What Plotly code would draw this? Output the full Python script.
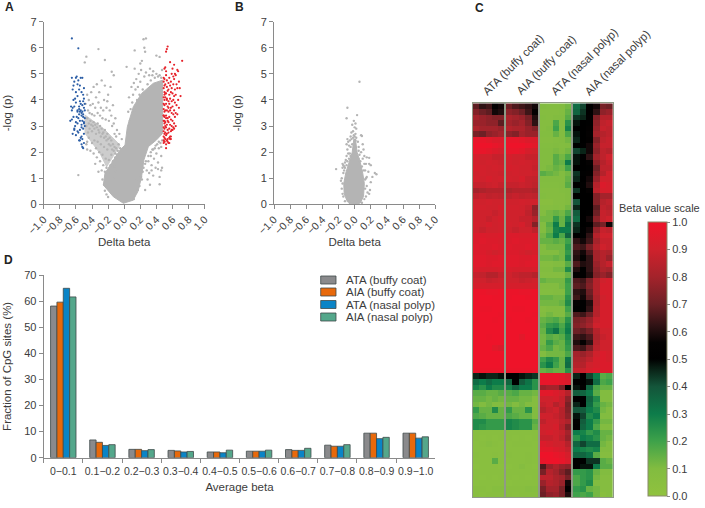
import plotly.graph_objects as go

W, H = 705, 508

# ---------- Panel A ----------
envelope_a_x = [-.01,.113,.175,.216,.245,.30,.403,.477,.477,.362,.216,.113,.039,.01,-.052,-.156,-.239,-.259,-.135,-.01]
envelope_a_y = [.04,.16,.53,1.06,1.70,2.21,2.47,2.72,4.76,4.64,4.25,3.74,2.97,2.27,2.08,1.57,1.19,.74,.29,.04]
arm_a_x = [-.487,-.26,-.052,-.218,-.30,-.487,-.487]
arm_a_y = [3.42,2.91,2.27,1.44,1.95,2.72,3.42]
gray_a = [(-.47,5.66),(-.49,5.44),(-.32,5.95),(-.24,5.53),(.24,6.33),(.27,6.36),(.13,5.9),(.25,6.0),(.26,5.85),(.2,5.4),(.22,5.5),(.03,5.27),(.13,5.2),(.4,5.7),(.44,5.65),(.32,5.2),(-.57,1.12),(-.155,5.08),(-.13,4.95),(.34,1.3),(.44,.77),(.46,1.3),(.42,1.35),
(-.46,2.4),(-.45,2.75),(-.47,3.0),(-.44,3.1),(-.43,2.9),(-.46,3.3),(-.42,3.2),(-.41,3.05),(-.4,2.8),(-.39,3.0),(-.38,3.15),(-.37,2.9),(-.36,3.05),(-.35,2.7),(-.34,2.95),(-.33,3.1),(-.32,2.85),(-.31,2.75),(-.3,3.0),(-.29,2.6),(-.28,2.9),(-.27,2.7),(-.26,2.75),(-.25,2.55),(-.24,2.85),(-.23,2.6),(-.22,2.45),(-.21,2.7),(-.2,2.5),(-.19,2.3),(-.18,2.55),(-.17,2.25),(-.16,2.45),(-.15,2.1),(-.14,2.3),(-.13,2.05),(-.12,2.2),(-.11,1.95),(-.1,2.15),(-.09,1.9),(-.08,2.05),(-.07,2.3),(-.05,2.15),
(-.45,3.6),(-.44,4.0),(-.46,4.2),(-.43,3.5),(-.42,3.8),(-.41,4.3),(-.4,3.45),(-.39,3.85),(-.38,4.5),(-.37,3.4),(-.36,3.7),(-.35,4.1),(-.34,4.6),(-.33,3.5),(-.32,3.9),(-.31,4.3),(-.3,3.4),(-.29,3.7),(-.28,4.75),(-.27,3.3),(-.26,3.6),(-.25,4.0),(-.24,4.55),(-.23,3.25),(-.22,3.7),(-.21,3.95),(-.2,4.2),(-.19,3.2),(-.18,3.6),(-.17,4.5),(-.16,3.4),(-.15,3.0),(-.14,3.8),(-.13,3.1),(-.12,2.7),(-.11,3.3),(-.1,2.6),(-.09,2.85),(-.06,2.7),(-.03,2.5),(.05,3.55),(.06,4.1),(.07,3.2),(.08,3.65),(.09,4.5),(.1,3.9),(.11,4.2),(.12,4.65),(.13,3.6),(.14,4.4),(.15,4.8),(.16,4.0),(.17,4.5),(.18,5.0),(.19,4.2),(.2,4.7),(.21,5.15),(.23,4.4),(.25,4.9),(.27,5.05),(.29,4.6),(.31,4.95),(.33,4.75),(.35,4.95),(.36,5.1),(.38,4.85),(.4,5.0),(.42,4.9),(.44,4.95),(.46,4.85),(.47,5.15),
(-.48,3.85),(-.47,2.3),(-.46,2.1),(-.44,2.55),(-.42,2.05),(-.4,2.35),(-.38,1.95),(-.37,2.45),(-.36,1.55),(-.35,2.15),(-.34,1.8),(-.33,2.4),(-.32,1.25),(-.31,2.0),(-.3,1.65),(-.29,2.3),(-.28,1.3),(-.27,1.9),(-.26,1.5),(-.25,2.2),(-.24,1.25),(-.23,1.75),(-.22,1.4),(-.21,2.1),(-.2,1.2),(-.19,1.7),(-.18,1.05),(-.17,1.5),(-.16,1.9),(-.15,1.3),(-.14,1.65),(-.13,1.0),(-.12,1.45),(-.11,1.8),(-.1,1.25),(-.27,.95),(-.25,.75),(-.24,.52),(-.22,.38),(-.2,.28),
(.12,.2),(.15,.45),(.19,.7),(.22,.95),(.26,.55),(.28,1.3),(.29,.95),(.3,1.65),(.31,1.2),(.32,.75),(.33,1.85),(.34,1.5),(.35,2.1),(.36,1.1),(.37,1.75),(.38,2.15),(.39,1.4),(.4,1.95),(.41,2.3),(.42,1.6),(.43,2.15),(.44,1.05),(.45,2.35),(.46,1.85),(.47,2.45),(.47,1.4),(.46,2.2),(.43,2.4),(.39,2.25),(.36,2.1),(.33,2.0),(.3,1.85),(.27,1.65),(.26,1.55),(.24,1.4),(.16,.95),(.17,.55),(.21,1.05),(.23,1.25)]
blue_x = [-.65,-.57,-.65,-.64,-.63,-.62,-.6,-.59,-.58,-.57,-.55,-.54,-.52,-.5,-.51,-.53,-.56,-.58,-.6,-.61,-.63,-.64,-.66,-.67,-.65,-.62,-.6,-.58,-.57,-.56,-.55,-.54,-.53,-.52,-.51,-.5,-.49,-.49,-.5,-.52,-.53,-.55,-.56,-.58,-.59,-.61,-.62,-.64,-.65,-.63,-.6,-.57,-.55,-.53,-.51,-.5,-.49,-.52,-.54,-.56,-.58,-.6,-.62,-.52,-.51,-.5,-.53,-.55,-.54,-.56,-.58,-.5,-.49,-.51,-.53,-.55,-.52,-.51,-.53,-.5]
blue_y = [6.36,5.98,4.85,4.4,4.55,4.7,4.85,4.9,4.6,4.75,4.55,4.85,4.85,4.45,4.2,4.3,4.4,4.15,4.3,4.05,4.0,3.7,3.75,3.2,3.6,3.75,3.9,3.55,3.3,3.65,3.95,3.6,3.4,3.8,3.95,3.7,3.6,3.3,3.15,3.55,3.05,3.2,3.45,3.1,3.35,3.0,2.85,2.7,3.25,3.35,3.15,2.75,2.85,2.6,2.9,2.7,3.0,2.5,2.55,2.45,2.8,2.65,2.9,2.2,2.15,2.35,2.3,2.45,3.85,3.75,3.6,4.05,3.85,3.35,3.5,3.55,3.2,3.45,2.95,3.1]
red_x = [.52,.53,.54,.51,.52,.6,.62,.72,.57,.63,.66,.5,.52,.56,.59,.61,.64,.67,.53,.55,.58,.62,.65,.68,.5,.51,.53,.55,.57,.59,.61,.63,.66,.69,.7,.49,.5,.52,.54,.56,.58,.6,.62,.64,.67,.49,.5,.51,.53,.55,.57,.59,.61,.63,.65,.68,.49,.5,.52,.54,.56,.58,.6,.62,.64,.49,.5,.51,.53,.55,.57,.59,.61,.63,.66,.49,.5,.52,.54,.56,.58,.6,.62,.49,.5,.51,.53,.55,.57,.59,.61,.64,.49,.5,.52,.54,.56,.58,.6,.49,.5,.51,.53,.55,.57,.59,.62,.49,.5,.52,.54,.56,.58,.49,.5,.51,.53,.55,.57,.49,.5,.52,.54,.56,.58,.49,.5,.51,.53,.55,.52,.49,.5,.51,.49,.5,.52,.54]
red_y = [5.85,5.95,6.05,5.25,5.1,5.2,5.35,5.5,5.45,5.0,5.15,5.2,4.95,4.85,5.0,4.9,4.95,5.1,4.75,4.65,4.7,4.8,4.6,4.7,4.8,4.6,4.5,4.4,4.55,4.45,4.6,4.4,4.45,4.45,4.15,4.45,4.3,4.25,4.35,4.2,4.3,4.25,4.15,4.2,4.0,4.1,4.0,4.1,4.05,3.95,4.05,3.95,4.0,3.9,3.8,3.7,3.85,3.8,3.85,3.75,3.85,3.7,3.75,3.6,3.5,3.65,3.55,3.6,3.6,3.55,3.6,3.5,3.45,3.35,3.45,3.4,3.35,3.4,3.3,3.35,3.25,3.2,3.1,3.2,3.1,3.15,3.05,3.15,3.05,3.0,2.95,3.0,2.95,2.9,2.95,2.85,2.9,2.8,2.85,2.8,2.7,2.75,2.7,2.75,2.6,2.85,2.9,2.6,2.55,2.65,2.5,2.55,2.6,2.45,2.4,2.5,2.45,2.35,2.5,2.35,2.4,2.3,2.4,2.35,2.5,4.85,4.55,4.25,4.0,3.7,2.15,3.4,3.2,3.0,4.7,4.2,3.3,3.2]

# ---------- Panel B ----------
envelope_b_x = [-.02, -.09, -.13, -.135, -.11, -.07, -.03, -.01, .01, .03, .07, .1, .12, .11, .07, .02]
envelope_b_y = [0, .1, .4, .8, 1.2, 1.6, 2.0, 2.5, 2.5, 2.0, 1.6, 1.2, .8, .3, .05, 0]
gray_b = [(.06,4.7),(-.09,3.7),(-.1,3.3),(.03,3.42),(-.01,3.2),(.01,3.1),(-.03,3.05),(0,2.95),(.02,2.9),(-.02,2.8),(-.04,2.75),(.01,2.7),(.08,2.65),(.09,2.62),(-.05,2.6),(-.09,2.5),(-.08,2.4),(-.06,2.45),(-.1,2.3),(-.07,2.25),(-.05,2.2),(-.09,2.1),(-.03,2.3),(.04,2.4),(.05,2.2),(.1,2.3),(.11,2.1),(.08,2.0),(.05,2.05),(.06,1.9),(.12,1.85),(.15,1.8),(.18,1.78),(.1,1.75),(.14,1.55),(.18,1.55),(.2,1.5),(.25,1.2),(.27,1.15),(.22,1.05),(.17,1.25),(.15,1.05),(.2,.85),(.19,.55),(.18,.4),(.15,.7),(.16,.45),(.14,.3),(.14,1.0),(.13,1.3),(.12,1.55),
(-.15,1.55),(-.14,1.5),(-.13,1.45),(-.15,1.4),(-.12,1.6),(-.11,1.7),(-.1,1.85),(-.08,1.95),(-.06,1.95),(-.23,1.35),(-.16,1.0),(-.17,.9),(-.15,.8),(-.16,.6),(-.15,.4),(-.14,.3),(-.12,.12),(-.14,1.2),(-.13,1.3),(-.12,1.4),(-.1,1.5),(-.09,1.65),(-.07,1.75),(-.05,1.85),(.05,1.75),(.07,1.65),(.09,1.45),(.11,1.3),(.13,.95),(.13,.6),(.12,.2),(.09,.06),(-.06,.05),(-.02,2.55),(0,2.6),(.02,2.55),(-.01,2.65),(.01,2.45),(-.04,2.5)]

# ---------- Panel D ----------
bins = ["0\u22120.1", "0.1\u22120.2", "0.2\u22120.3", "0.3\u22120.4", "0.4\u22120.5", "0.5\u22120.6", "0.6\u22120.7", "0.7\u22120.8", "0.8\u22120.9", "0.9\u22121.0"]
series_names = ["ATA (buffy coat)", "AIA (buffy coat)", "ATA (nasal polyp)", "AIA (nasal polyp)"]
ata_buffy = [58.1, 6.8, 3.2, 2.8, 2.2, 2.5, 3.1, 4.8, 9.4, 9.4]
aia_buffy = [59.6, 5.9, 3.2, 2.6, 2.2, 2.5, 2.8, 4.4, 9.4, 9.4]
ata_nasal = [64.9, 4.7, 2.7, 2.2, 1.9, 2.5, 2.8, 4.4, 7.3, 7.5]
aia_nasal = [61.6, 5.0, 3.1, 2.4, 2.9, 2.9, 3.6, 5.0, 7.8, 8.0]
bar_colors = ["#8a8a8c", "#e8690b", "#0a84c6", "#54a78b"]

# ---------- Panel C (beta x 100) ----------
hm_ata_buffy = [
[68,62,64,56,58],[74,70,68,58,60],[80,78,76,74,74],[78,78,76,76,68],[82,80,80,80,78],[72,70,76,78,80],
[98,98,96,94,94],[100,100,100,98,96],[98,98,96,94,92],[92,90,90,88,88],[91,90,91,90,89],[92,91,90,91,90],
[90,91,90,90,89],[91,90,92,90,91],[88,88,89,90,88],[80,82,84,84,84],[86,88,86,87,86],[90,90,91,90,90],
[91,91,90,90,92],[90,90,90,88,90],[90,90,88,90,92],[91,90,92,90,91],[90,88,90,90,91],[94,94,93,93,94],
[94,95,94,94,93],[95,94,94,95,94],[94,94,92,90,92],[95,95,94,94,95],[95,95,94,95,95],[93,92,92,92,93],
[88,87,84,84,88],[90,90,88,89,90],[92,92,92,92,92],[99,99,98,98,99],[99,100,100,99,99],[100,100,100,100,100],
[100,99,99,100,100],[100,100,100,100,99],[99,100,100,99,100],[100,100,100,100,100],[100,100,100,100,100],[100,100,99,100,100],
[100,100,100,100,100],[100,100,100,96,94],[100,100,100,100,100],[100,100,100,100,100],[100,100,100,100,100],[99,99,99,99,99],
[46,48,46,46,48],[34,30,34,30,30],[28,24,30,26,26],[16,16,14,14,16],[14,14,12,14,12],[12,10,12,10,10],
[22,14,14,26,14],[18,16,14,14,14],[26,26,22,22,22],[26,24,22,22,22],
[6,6,6,6,6],[6,5,6,5,6],[5,6,8,6,5],[5,5,5,5,5],[6,5,5,6,5],[5,5,5,16,5],[4,5,5,5,4],[5,5,5,5,5],[5,4,5,4,5],[4,5,5,5,5],[6,6,5,7,7],[6,5,6,6,6]]
hm_aia_buffy = [
[70,66,64,62,58],[76,74,70,64,54],[82,80,78,72,60],[80,78,80,74,62],[84,82,82,78,74],[76,74,80,78,78],
[98,98,96,94,94],[100,100,100,98,96],[98,98,96,92,90],[92,90,90,88,88],[91,90,91,90,89],[92,91,90,90,88],
[90,91,90,90,89],[91,90,92,88,87],[88,88,89,88,86],[82,84,84,84,82],[86,88,86,87,86],[90,90,91,90,90],
[91,91,90,88,76],[90,90,90,86,78],[90,90,88,88,84],[91,90,92,88,74],[90,88,90,90,86],[94,94,93,93,94],
[94,95,94,94,93],[95,94,94,95,94],[94,94,92,90,92],[95,95,94,94,95],[95,95,94,95,95],[93,92,92,92,93],
[90,88,86,86,84],[90,90,88,89,90],[92,92,92,92,92],[99,99,98,98,99],[99,100,100,99,99],[100,100,100,100,100],
[100,99,99,100,100],[100,100,100,100,99],[99,100,100,99,100],[100,100,100,100,100],[100,100,100,100,100],[100,100,96,100,100],
[100,100,100,100,100],[100,100,100,100,100],[100,100,100,100,100],[100,100,100,100,100],[100,100,100,100,100],[99,99,99,99,99],
[50,50,48,46,44],[36,50,38,32,24],[28,36,30,30,24],[16,18,14,14,12],[14,14,12,12,8],[12,10,12,10,8],
[22,14,14,24,10],[18,16,14,14,10],[28,26,24,24,16],[28,26,24,24,14],
[6,6,6,6,6],[6,5,6,5,6],[5,6,6,6,5],[5,5,5,5,5],[6,5,5,6,5],[5,5,5,6,5],[4,5,8,5,4],[5,5,5,5,5],[5,4,5,4,5],[4,5,5,5,5],[6,6,6,8,7],[6,5,6,6,6]]
hm_ata_nasal = [
[10,9,9,10,12],[8,8,8,9,14],[9,8,10,10,16],[8,8,18,10,24],[8,10,20,10,28],[9,9,14,10,18],
[8,8,9,10,12],[9,9,10,9,10],[10,10,11,10,12],[10,10,16,12,18],[10,10,16,14,30],[10,11,14,12,20],
[16,14,12,10,12],[10,10,10,10,14],[9,9,9,10,16],[8,8,8,9,10],[9,8,8,8,10],[6,6,8,8,10],
[8,8,9,8,12],[10,12,14,12,18],[12,12,22,14,26],[10,16,30,14,32],[10,14,28,30,30],[12,18,30,18,36],
[14,14,16,14,20],[10,12,12,12,24],[10,10,10,12,22],[12,12,14,12,26],[8,8,10,10,16],[10,10,12,12,26],
[8,8,8,8,14],[14,12,12,12,22],[10,10,10,12,20],[9,9,10,10,20],[14,14,12,12,24],[12,12,12,14,26],
[8,10,10,10,20],[10,12,10,10,16],[14,16,18,14,24],[16,22,24,18,28],[14,26,32,20,30],[12,16,14,16,26],
[12,22,16,14,24],[14,18,12,14,22],[10,12,12,12,18],[20,26,22,14,32],[24,30,20,14,34],[14,16,14,14,24],
[98,98,98,96,92],[98,98,98,96,94],[78,80,80,72,50],[96,96,94,90,84],[90,90,92,88,76],[88,90,84,88,72],
[84,88,90,84,74],[90,90,88,84,76],[86,90,90,86,82],[90,90,92,84,74],[90,92,90,88,80],[88,88,90,86,78],
[94,92,90,90,84],[96,96,94,92,88],[100,100,98,96,92],[98,100,100,98,94],[66,78,82,78,76],[72,84,80,74,68],
[86,86,82,80,72],[78,84,82,78,58],[72,80,80,72,52],[70,76,78,72,60]]
hm_aia_nasal = [
[34,42,50,58,72,70],[36,44,50,62,76,78],[44,46,52,74,84,84],[48,50,52,76,86,88],[50,50,54,78,88,86],[48,50,56,80,84,86],
[46,50,54,74,86,88],[50,52,58,78,88,88],[42,46,58,76,86,84],[48,52,62,80,86,90],[48,50,56,76,84,88],[50,50,52,70,86,86],
[44,52,54,74,84,90],[46,50,58,78,90,90],[50,52,60,84,94,92],[44,50,56,86,92,92],[50,50,50,74,80,80],[40,50,50,74,84,86],
[46,50,50,68,86,84],[38,50,52,70,88,86],[34,50,58,76,88,90],[44,50,52,68,72,58],[46,52,58,78,88,86],[50,52,62,84,90,90],
[62,58,64,80,88,88],[66,64,72,84,90,88],[62,58,66,80,84,82],[60,56,62,80,84,78],[66,60,62,78,84,88],[60,52,62,76,82,80],
[56,52,60,74,78,74],[66,64,72,84,90,92],[68,66,74,84,92,92],[62,60,70,84,92,92],[64,58,68,82,90,92],[56,52,60,82,92,92],
[52,52,62,84,92,92],[66,64,70,84,92,92],[72,74,78,88,92,92],[74,76,80,90,92,92],[70,68,72,84,90,90],[64,62,66,82,88,90],
[60,56,62,84,90,90],[66,64,72,86,90,90],[80,78,82,90,94,92],[82,82,86,92,94,92],[84,84,90,92,94,94],[88,88,92,94,94,94],
[46,50,42,30,16,18],[50,50,48,34,18,20],[48,54,36,18,14,14],[38,36,30,16,10,10],[50,50,36,26,10,10],[46,50,34,22,14,12],
[40,38,30,26,12,10],[48,42,26,30,10,10],[52,38,30,22,12,12],[50,36,30,18,10,10],[30,28,22,26,14,14],[24,30,28,24,14,12],
[36,42,34,34,12,10],[30,28,26,28,10,10],[36,36,32,16,8,8],[50,50,44,44,16,14],[50,48,48,30,16,16],[22,22,24,14,10,10],
[18,22,24,12,8,8],[18,22,26,10,8,8],[22,24,14,12,8,8],[20,18,20,12,6,8]]
tick_vals = [v / 10 for v in range(-10, 11, 2)]
tick_text = [f"{v:.1f}".replace("-", "\u2212") for v in tick_vals]

TXT = "#3c3c3c"
AX = "#8a8a8a"
FONT = "Liberation Sans"
GRAY = "#b4b4b4"
beta_scale = [[0, "#90c23e"], [.1, "#82bc40"], [.2, "#3ea24a"], [.3, "#0d7c4a"], [.4, "#14553a"], [.47, "#081c12"], [.5, "#000000"], [.56, "#040202"], [.62, "#2e1214"], [.7, "#6d2025"], [.8, "#a4232b"], [.9, "#cf212c"], [1, "#ee1329"]]


def dx(a, b):
    return [a / W, b / W]


def dy(top, bottom):
    return [1 - bottom / H, 1 - top / H]


def split(p):
    return [v[0] for v in p], [v[1] for v in p]


fig = go.Figure()


def area(axis, ex, ey, colour):
    fig.add_trace(go.Scatter(x=ex, y=ey, mode="lines", fill="toself", fillcolor=colour, line=dict(color=colour, width=1), xaxis="x" + axis, yaxis="y" + axis, showlegend=False, hoverinfo="skip"))


def dots(axis, pts):
    px_, py_ = split(pts)
    fig.add_trace(go.Scatter(x=px_, y=py_, mode="markers", marker=dict(color=GRAY, size=2.4), xaxis="x" + axis, yaxis="y" + axis, showlegend=False))


area("", arm_a_x, arm_a_y, "#cdcdcd")
area("", envelope_a_x, envelope_a_y, GRAY)
dots("", gray_a)
fig.add_trace(go.Scatter(x=blue_x, y=blue_y, mode="markers", marker=dict(color="#2c5ea6", size=2.2), showlegend=False))
fig.add_trace(go.Scatter(x=red_x, y=red_y, mode="markers", marker=dict(color="#e6232b", size=2.2), showlegend=False))
area("2", envelope_b_x, envelope_b_y, GRAY)
dots("2", gray_b)

for name, vals, col in zip(series_names, [ata_buffy, aia_buffy, ata_nasal, aia_nasal], bar_colors):
    fig.add_trace(go.Bar(x=bins, y=vals, name=name, marker=dict(color=col, line=dict(color="#3f4a4a", width=0.8)), xaxis="x3", yaxis="y3", showlegend=False))

for i, block in enumerate([hm_ata_buffy, hm_aia_buffy, hm_ata_nasal, hm_aia_nasal]):
    beta = [[v / 100 for v in row] for row in block]
    fig.add_trace(go.Heatmap(z=beta, xaxis=f"x{4 + i}", yaxis=f"y{4 + i}", coloraxis="coloraxis"))

vol_x = dict(automargin=False, range=[-1, 1], tickvals=tick_vals, ticktext=tick_text, tickangle=-45, ticks="outside", ticklen=4, tickcolor=AX, showline=True, linecolor=AX, showgrid=False, zeroline=False, tickfont=dict(size=10.5, color=TXT), title=dict(text="Delta beta", font=dict(size=11.5, color=TXT), standoff=0))
vol_y = dict(automargin=False, range=[0, 7], dtick=1, ticks="outside", ticklen=4, tickcolor=AX, showline=True, linecolor=AX, showgrid=False, zeroline=False, tickfont=dict(size=11, color=TXT), title=dict(text="-log (p)", font=dict(size=11.5, color=TXT), standoff=16))

layout = dict(
    width=W, height=H, margin=dict(l=0, r=0, t=0, b=0, autoexpand=False), autosize=False,
    paper_bgcolor="white", plot_bgcolor="white", font=dict(family=FONT, color=TXT),
    showlegend=False, barmode="group", bargap=0.35, bargroupgap=0,
    xaxis=dict(vol_x, domain=dx(43.7, 204.7), anchor="y"),
    yaxis=dict(vol_y, domain=dy(21.7, 204.3), anchor="x"),
    xaxis2=dict(vol_x, domain=dx(274, 435.3), anchor="y2"),
    yaxis2=dict(vol_y, domain=dy(21.7, 204.3), anchor="x2"),
    xaxis3=dict(automargin=False, domain=dx(43.7, 435.3), anchor="y3", type="category", tickson="boundaries", ticks="outside", ticklen=4, tickcolor=AX, showline=True, linecolor=AX, showgrid=False, tickfont=dict(size=10.5, color=TXT), tickangle=0, ticklabelstandoff=4, title=dict(text="Average beta", font=dict(size=11.5, color=TXT), standoff=6)),
    yaxis3=dict(automargin=False, domain=dy(275, 457.7), anchor="x3", range=[0, 70], dtick=10, ticks="outside", ticklen=4, tickcolor=AX, showline=True, linecolor=AX, showgrid=False, zeroline=False, tickfont=dict(size=11, color=TXT), title=dict(text="Fraction of CpG sites (%)", font=dict(size=11.5, color=TXT), standoff=10)),
    coloraxis=dict(colorscale=beta_scale, cmin=0, cmax=1, colorbar=dict(
        x=648.3 / W, xanchor="left", y=1 - 359.2 / H, yanchor="middle", lenmode="pixels", len=274, thicknessmode="pixels", thickness=19.4,
        xpad=0, ypad=0, outlinecolor="#8a8a6a", outlinewidth=1, tickvals=[v / 10 for v in range(11)], ticktext=[f"{v / 10:.1f}" for v in range(11)], ticks="outside", ticklen=3, tickcolor=AX, tickfont=dict(size=11, color=TXT))),
)
cols = [(472.7, 504.3), (506, 538), (539.7, 571.3), (573, 612.7)]
for i, (a, b) in enumerate(cols):
    n = str(4 + i)
    layout[f"xaxis{n}"] = dict(automargin=False, domain=dx(a, b), anchor=f"y{n}", showticklabels=False, ticks="", showgrid=False, zeroline=False, showline=True, mirror=True, linecolor="#8f9a86", linewidth=1)
    layout[f"yaxis{n}"] = dict(automargin=False, domain=dy(103.3, 497), anchor=f"x{n}", autorange="reversed", showticklabels=False, ticks="", showgrid=False, zeroline=False, showline=True, mirror=True, linecolor="#8f9a86", linewidth=1)

annotations = []


def label(text, px, py, size=10.5, bold=False, angle=0, xanchor="left"):
    annotations.append(dict(text=f"<b>{text}</b>" if bold else text, x=px / W, y=1 - py / H, xref="paper", yref="paper", showarrow=False, font=dict(size=size, color="#222" if bold else TXT), textangle=angle, xanchor=xanchor, yanchor="middle"))


label("A", 3, 7, 12, True)
label("B", 233, 7, 12, True)
label("C", 473, 8, 12, True)
label("D", 2, 260, 12, True)
label("Beta value scale", 617, 208, 11)
for t, cx, cy in zip(series_names, [513, 546, 584, 617], [65, 65, 62, 63]):
    label(t, cx, cy, 11.5, angle=-45, xanchor="center")

shapes = []
for i, (t, col) in enumerate(zip(series_names, bar_colors)):
    cy = [280, 292, 304.5, 317][i]
    shapes.append(dict(type="rect", xref="paper", yref="paper", x0=320.7 / W, x1=336 / W, y0=1 - (cy + 4) / H, y1=1 - (cy - 4) / H, fillcolor=col, line=dict(color="#3f4a4a", width=0.8)))
    label(t, 344, cy, 11.5)

fig.update_layout(**layout, annotations=annotations, shapes=shapes)
fig.write_html("out.html", config=dict(displayModeBar=False), post_script="document.body.style.margin='0';document.documentElement.style.overflow='hidden';")
